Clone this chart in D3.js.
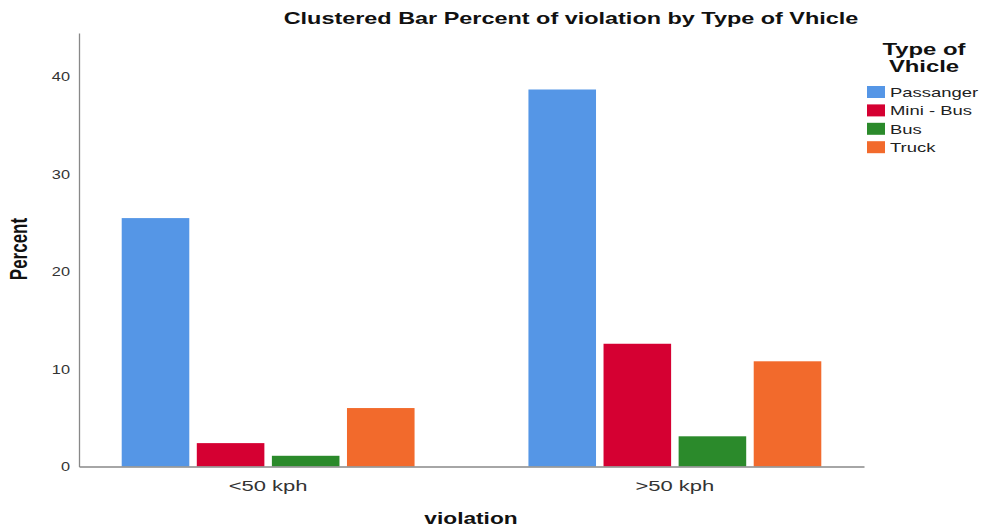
<!DOCTYPE html>
<html>
<head>
<meta charset="utf-8">
<script src="https://cdn.jsdelivr.net/npm/d3@7"></script>
<style>
	html, body { margin: 0; padding: 0; background: #fff; }
	svg { display: block; font-family: "Liberation Sans", Arial, sans-serif; }
</style>
</head>
<body>
<svg id="chart" width="983" height="529"></svg>
<script>
"use strict";

// data
var categories = ["<50 kph", ">50 kph"];
var vehicles = ["Passanger", "Mini - Bus", "Bus", "Truck"];
var passanger = [25.5, 38.7];
var miniBus = [2.4, 12.6];
var bus = [1.1, 3.1];
var truck = [6.0, 10.8];
var yTicks = [0, 10, 20, 30, 40];
var colours = ["#5596e6", "#d50032", "#2b8a2b", "#f26a2c"];

var Chart = (function(){
	var svg = {},
		K = 1.42; // the picture is stretched sideways

	// widen text glyphs without moving its anchor
	function stretch(sel, k) {
		sel.each(function() {
			var t = d3.select(this),
				x = +t.attr("x") || 0,
				y = +t.attr("y") || 0;
			t.attr("x", 0).attr("y", 0)
				.attr("transform", "translate(" + x + "," + y + ") scale(" + k + ",1)");
		});
	}

	function init(el) {
		svg = d3.select("#" + el);

		var series = [passanger, miniBus, bus, truck];
		var rows = categories.map(function(c, i) {
			return {
				cat: c,
				vals: vehicles.map(function(v, j) {
					return { key: v, value: series[j][i] };
				})
			};
		});

		var x0 = d3.scaleBand()
			.domain(categories)
			.range([79, 864])
			.paddingInner(0.28)
			.paddingOuter(0.105);

		var x1 = d3.scaleBand()
			.domain(vehicles)
			.range([0, x0.bandwidth()])
			.paddingInner(0.1);

		var y = d3.scaleLinear()
			.domain([0, 44.5])
			.range([466.5, 33]);

		var colour = d3.scaleOrdinal()
			.domain(vehicles)
			.range(colours);

		// bars
		svg.append("g").selectAll("g")
			.data(rows)
			.enter()
			.append("g")
			.attr("transform", function(d) {
				return "translate(" + x0(d.cat) + ",0)";
			})
			.selectAll("rect")
			.data(function(d) { return d.vals; })
			.enter()
			.append("rect")
			.attr("x", function(d) { return x1(d.key); })
			.attr("y", function(d) { return y(d.value); })
			.attr("width", x1.bandwidth())
			.attr("height", function(d) { return y(0) - y(d.value); })
			.attr("fill", function(d) { return colour(d.key); });

		// y axis
		var yAxis = svg.append("g")
			.attr("transform", "translate(79,0)")
			.call(d3.axisLeft(y).tickValues(yTicks).tickSize(0).tickPadding(9));
		yAxis.select(".domain").attr("stroke", "#888").attr("stroke-width", 1.3);
		yAxis.selectAll("text")
			.attr("font-size", "12.5px")
			.attr("font-family", "Liberation Sans, Arial, sans-serif")
			.attr("fill", "#333");
		stretch(yAxis.selectAll("text"), K * 0.92);

		// x axis
		var xAxis = svg.append("g")
			.attr("transform", "translate(0," + y(0) + ")")
			.call(d3.axisBottom(x0).tickSize(0).tickPadding(13));
		xAxis.select(".domain").attr("stroke", "#888").attr("stroke-width", 1.3);
		xAxis.selectAll("text")
			.attr("font-size", "15.5px")
			.attr("font-family", "Liberation Sans, Arial, sans-serif")
			.attr("fill", "#333");
		stretch(xAxis.selectAll("text"), K);

		// titles
		var title = svg.append("text")
			.attr("x", 571)
			.attr("y", 24)
			.attr("text-anchor", "middle")
			.attr("font-size", "16.5px")
			.attr("font-weight", "bold")
			.attr("fill", "#111")
			.text("Clustered Bar Percent of violation by Type of Vhicle");
		stretch(title, K);

		var xTitle = svg.append("text")
			.attr("x", 471)
			.attr("y", 524)
			.attr("text-anchor", "middle")
			.attr("font-size", "16px")
			.attr("font-weight", "bold")
			.attr("fill", "#111")
			.text("violation");
		stretch(xTitle, K);

		svg.append("text")
			.attr("transform", "translate(27,249) rotate(-90) scale(1," + K + ")")
			.attr("text-anchor", "middle")
			.attr("font-size", "17px")
			.attr("font-weight", "bold")
			.attr("fill", "#111")
			.text("Percent");

		// legend
		var legend = svg.append("g");
		var lt = legend.selectAll("text.lt")
			.data(["Type of", "Vhicle"])
			.enter()
			.append("text")
			.attr("class", "lt")
			.attr("x", 924)
			.attr("y", function(d, i) { return 55 + i * 17; })
			.attr("text-anchor", "middle")
			.attr("font-size", "16px")
			.attr("font-weight", "bold")
			.attr("fill", "#111")
			.text(function(d) { return d; });
		stretch(lt, K * 1.05);

		var item = legend.selectAll("g.item")
			.data(vehicles)
			.enter()
			.append("g")
			.attr("class", "item")
			.attr("transform", function(d, i) {
				return "translate(867," + (86 + i * 18.4) + ")";
			});
		item.append("rect")
			.attr("width", 18)
			.attr("height", 12)
			.attr("fill", function(d) { return colour(d); });
		var it = item.append("text")
			.attr("x", 23)
			.attr("y", 11)
			.attr("font-size", "13px")
			.attr("fill", "#222")
			.text(function(d) { return d; });
		stretch(it, K);
	}

	return {
		"init": init
	}
}());

Chart.init("chart");
</script>
</body>
</html>
